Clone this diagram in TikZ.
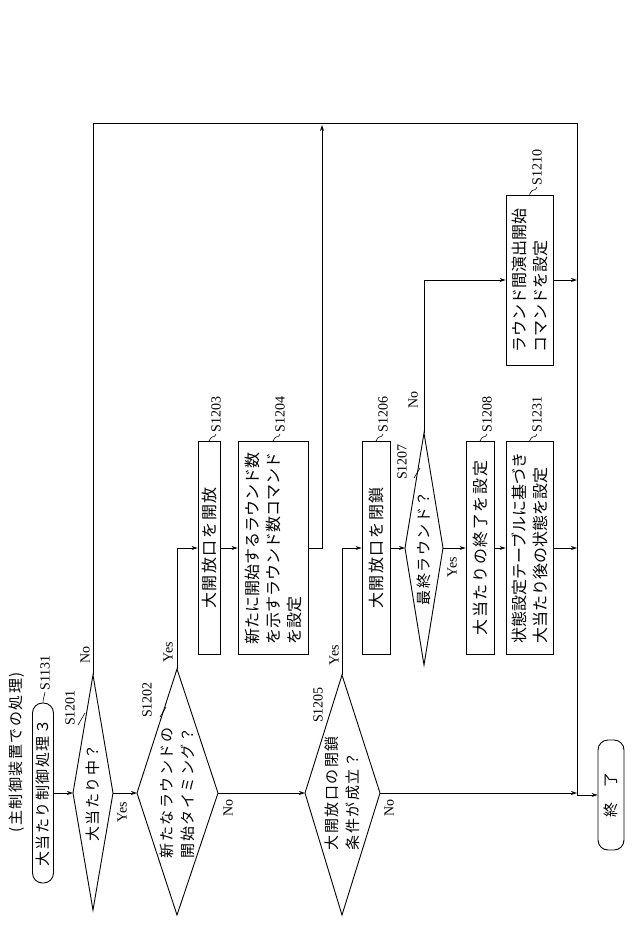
\documentclass[tikz,border=0pt]{standalone}
\usepackage{fontspec}
\setmainfont{Liberation Serif}
\newfontfamily\jp{Noto Sans CJK JP}
\newfontfamily\jpw{Noto Sans CJK JP}[LetterSpace=10]
\usetikzlibrary{arrows.meta,calc}
\begin{document}
\begin{tikzpicture}[x=1pt,y=1pt,line width=0.9pt,
  >={Stealth[length=6pt,width=4pt]},
  box/.style={draw,rotate=90,font=\jpw\fontsize{16}{21}\selectfont,inner sep=2pt,align=left},
  boxn/.style={box,font=\jp\fontsize{16}{21}\selectfont},
  term/.style={draw,rounded corners=10pt,rotate=90,font=\jpw\fontsize{15}{18}\selectfont,inner sep=2pt},
  dtext/.style={rotate=90,font=\jpw\fontsize{15}{21}\selectfont,align=left,inner sep=0pt},
  lab/.style={rotate=90,font=\fontsize{14}{14}\selectfont,inner sep=1pt},
  yn/.style={rotate=90,font=\fontsize{14}{14}\selectfont,inner sep=1pt}]
\useasboundingbox (0,0) rectangle (640,-948);
% header
\node[dtext,anchor=center] (hdr) at (17,-752) {(主制御装置での処理)};
\node[term,minimum width=180pt,minimum height=21pt] (start) at (43,-793) {大当たり制御処理３};
\node[lab,anchor=west] (l1131) at (45,-692) {S1131};
\draw[line width=0.6pt] (start.east) .. controls (43,-697) and (45,-696) .. (l1131.west);
% diamond 1
\coordinate (d1w) at (73,-793); \coordinate (d1e) at (113,-793);
\coordinate (d1n) at (93,-675); \coordinate (d1s) at (93,-910);
\draw (d1w)--(d1n)--(d1e)--(d1s)--cycle;
\node[dtext] (t1) at (93,-793) {大当たり中？};
\node[lab] (l1201) at (70,-708) {S1201};
\draw[line width=0.6pt] (78,-725)--(85,-713);
% diamond 2
\coordinate (d2w) at (137,-793); \coordinate (d2e) at (218,-793);
\coordinate (d2n) at (177,-669); \coordinate (d2s) at (177,-915);
\draw (d2w)--(d2n)--(d2e)--(d2s)--cycle;
\node[dtext] (t2) at (177,-793) {新たなラウンドの\\開始タイミング？};
\node[lab] (l1202) at (147,-700) {S1202};
\draw[line width=0.6pt] (160,-717)--(166,-707);
% diamond 3
\coordinate (d3w) at (305,-793); \coordinate (d3e) at (380,-793);
\coordinate (d3n) at (342,-675); \coordinate (d3s) at (342,-915);
\draw (d3w)--(d3n)--(d3e)--(d3s)--cycle;
\node[dtext] (t3) at (342,-793) {大開放口の閉鎖\\条件が成立？};
\node[lab] (l1205) at (318,-705) {S1205};
% boxes column 1
\node[box,minimum width=213pt,minimum height=22pt] (b1203) at (209,-548) {大開放口を開放};
\node[lab,anchor=west] (l1203) at (216,-434) {S1203};
\node[boxn,minimum width=213pt,minimum height=70pt] (b1204) at (273,-548) {新たに開始するラウンド数\\を示すラウンド数コマンド\\を設定};
\node[lab,anchor=west] (l1204) at (280,-434) {S1204};
% column 2
\node[box,minimum width=213pt,minimum height=28pt] (b1206) at (376,-548) {大開放口を閉鎖};
\node[lab,anchor=west] (l1206) at (383,-434) {S1206};
\coordinate (d4w) at (405,-548); \coordinate (d4e) at (443,-548);
\coordinate (d4n) at (424,-433); \coordinate (d4s) at (424,-665);
\draw (d4w)--(d4n)--(d4e)--(d4s)--cycle;
\node[dtext] (t4) at (424,-548) {最終ラウンド？};
\node[lab] (l1207) at (402,-462) {S1207};
\draw[line width=0.6pt] (414,-478)--(420,-468);
\node[box,minimum width=213pt,minimum height=28pt] (b1208) at (480,-548) {大当たりの終了を設定};
\node[lab,anchor=west] (l1208) at (487,-434) {S1208};
\node[boxn,minimum width=213pt,minimum height=47pt] (b1231) at (529.5,-548) {状態設定テーブルに基づき\\大当たり後の状態を設定};
\node[lab,anchor=west] (l1231) at (537,-434) {S1231};
\node[boxn,minimum width=170pt,minimum height=47pt] (b1210) at (529.5,-280) {ラウンド間演出開始\\コマンドを設定};
\node[lab,anchor=west] (l1210) at (537,-187) {S1210};
% tildes
\foreach \b/\l in {b1203/l1203,b1204/l1204,b1206/l1206,b1208/l1208,b1231/l1231,b1210/l1210}{
  \draw[line width=0.6pt] (\b.east) .. controls ($(\b.east)+(4,8)$) and ($(\l.west)+(-3,-6)$) .. (\l.west);}
% end
\node[term,minimum width=110pt,minimum height=26pt] (fin) at (611,-795) {終\hspace{1em}了};
% right bus and top line
\coordinate (top1) at (93,-123); \coordinate (topR) at (577,-123);
\coordinate (busE) at (577,-795);
\draw (d1n)--(top1)--(topR)--(busE);
\draw[->] (busE)--(fin.north);
% connectors
\draw[->] (start.south)--(d1w);
\draw[->] (d1e)--(d2w);
\draw[->] (d2e)--(d3w);
\draw[->] (d2n)|-(b1203.north);
\draw[->] (b1203.south)--(b1204.north);
\draw[->] (b1204.south)-|(322,-125);
\draw[->] (d3n)|-(b1206.north);
\draw[->] (d3e)--(577,-793);
\draw[->] (b1206.south)--(d4w);
\draw[->] (d4e)--(b1208.north);
\draw[->] (b1208.south)--(b1231.north);
\draw[->] (b1231.south)--(577,-548);
\draw[->] (d4n)|-(b1210.north);
\draw[->] (b1210.south)--(577,-280);
% yes/no
\node[yn] at (85,-655) {No};
\node[yn] at (122,-812) {Yes};
\node[yn] at (168,-652) {Yes};
\node[yn] at (228,-808) {No};
\node[yn] at (334,-655) {Yes};
\node[yn] at (389,-808) {No};
\node[yn] at (413,-400) {No};
\node[yn] at (452,-567) {Yes};
\end{tikzpicture}
\end{document}
